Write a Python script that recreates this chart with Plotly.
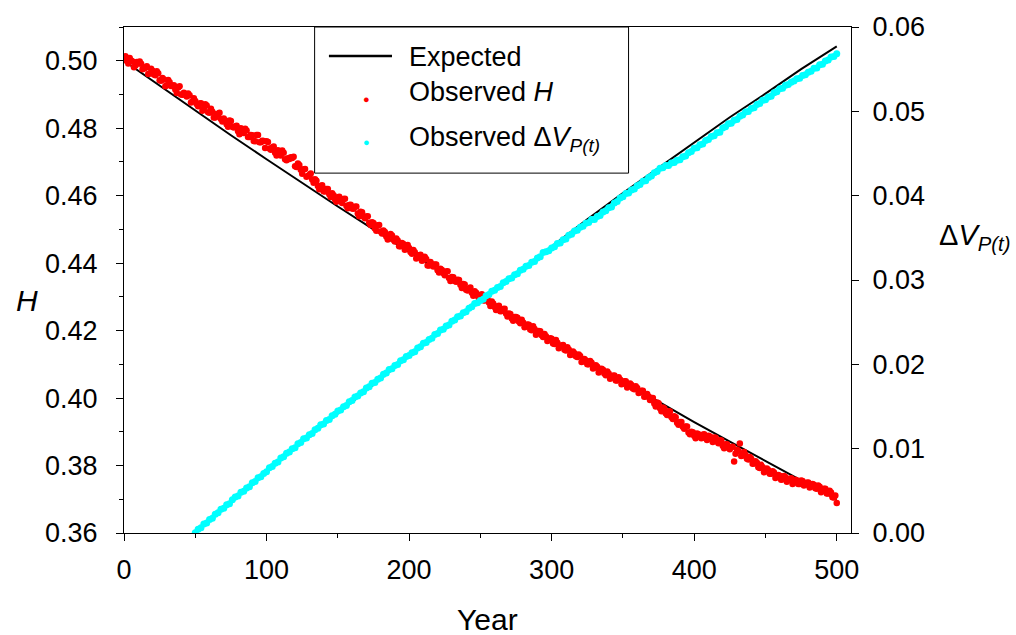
import plotly.graph_objects as go

# ---------------- data ----------------
exp_years = [0, 25, 50, 75, 100, 125, 150, 175, 200, 225, 250, 275, 300, 325, 350, 375, 400, 425, 450, 475, 500]
exp_H = [0.5000, 0.4926, 0.4852, 0.4779, 0.4708, 0.4637, 0.4568, 0.4500, 0.4432, 0.4366, 0.4301,
         0.4237, 0.4173, 0.4111, 0.4050, 0.3989, 0.3929, 0.3871, 0.3813, 0.3756, 0.3700]

exp_dv_years = [50, 75, 100, 125, 150, 175, 200, 225, 250, 275, 300, 325, 350, 375, 400, 425, 450, 475, 500]
exp_dV = [0.0, 0.00365, 0.0072, 0.01075, 0.0142, 0.0176, 0.0210, 0.0243, 0.02755, 0.03075, 0.03395,
          0.0372, 0.0403, 0.0433, 0.0463, 0.0493, 0.0521, 0.0550, 0.0577]

# observed H, even years 0..500
obs_H_even = [
    0.5011, 0.4999, 0.5008, 0.4998, 0.4986, 0.4992, 0.4991, 0.4977, 0.4984, 0.4962,
    0.4970, 0.4957, 0.4963, 0.4941, 0.4944, 0.4927, 0.4936, 0.4925, 0.4915, 0.4921,
    0.4900, 0.4905, 0.4894, 0.4898, 0.4879, 0.4881, 0.4865, 0.4874, 0.4859, 0.4867,
    0.4846, 0.4849, 0.4832, 0.4842, 0.4827, 0.4829, 0.4812, 0.4823, 0.4804, 0.4805,
    0.4791, 0.4800, 0.4786, 0.4793, 0.4774, 0.4779, 0.4761, 0.4780, 0.4758, 0.4762,
    0.4761, 0.4740, 0.4743, 0.4727, 0.4735, 0.4719, 0.4727, 0.4705, 0.4709, 0.4712,
    0.4687, 0.4695, 0.4677, 0.4678, 0.4656, 0.4661, 0.4648, 0.4649, 0.4629, 0.4629,
    0.4613, 0.4620, 0.4604, 0.4607, 0.4589, 0.4595, 0.4585, 0.4590, 0.4570, 0.4572,
    0.4562, 0.4567, 0.4547, 0.4552, 0.4538, 0.4538, 0.4520, 0.4521, 0.4503, 0.4512,
    0.4494, 0.4497, 0.4479, 0.4482, 0.4482, 0.4464, 0.4467, 0.4450, 0.4457, 0.4444,
    0.4445, 0.4428, 0.4432, 0.4419, 0.4425, 0.4409, 0.4412, 0.4393, 0.4397, 0.4396,
    0.4379, 0.4383, 0.4371, 0.4375, 0.4356, 0.4359, 0.4347, 0.4351, 0.4336, 0.4338,
    0.4321, 0.4324, 0.4312, 0.4317, 0.4303, 0.4305, 0.4290, 0.4294, 0.4283, 0.4286,
    0.4270, 0.4272, 0.4257, 0.4264, 0.4251, 0.4251, 0.4236, 0.4240, 0.4238, 0.4222,
    0.4224, 0.4213, 0.4217, 0.4201, 0.4205, 0.4194, 0.4198, 0.4181, 0.4183, 0.4172,
    0.4176, 0.4160, 0.4164, 0.4154, 0.4157, 0.4141, 0.4144, 0.4129, 0.4133, 0.4122,
    0.4125, 0.4109, 0.4111, 0.4100, 0.4105, 0.4090, 0.4093, 0.4082, 0.4084, 0.4068,
    0.4073, 0.4062, 0.4067, 0.4052, 0.4055, 0.4043, 0.4050, 0.4036, 0.4039, 0.4026,
    0.4030, 0.4017, 0.4022, 0.4005, 0.4005, 0.4000, 0.3984, 0.3987, 0.3970, 0.3972,
    0.3955, 0.3961, 0.3944, 0.3946, 0.3927, 0.3929, 0.3915, 0.3916, 0.3898, 0.3900,
    0.3888, 0.3895, 0.3885, 0.3891, 0.3881, 0.3888, 0.3878, 0.3883, 0.3871, 0.3875,
    0.3859, 0.3863, 0.3853, 0.3855, 0.3812, 0.3847, 0.3865, 0.3830, 0.3832, 0.3818,
    0.3820, 0.3806, 0.3808, 0.3793, 0.3795, 0.3783, 0.3787, 0.3776, 0.3779, 0.3766,
    0.3770, 0.3759, 0.3766, 0.3757, 0.3762, 0.3750, 0.3756, 0.3745, 0.3754, 0.3744,
    0.3750, 0.3738, 0.3743, 0.3731, 0.3737, 0.3726, 0.3731, 0.3717, 0.3720, 0.3705,
    0.3689,
]

# observed H, odd years 1..499
obs_H_odd = [
    0.5013, 0.4992, 0.5001, 0.4981, 0.4996, 0.4998, 0.4975, 0.4979, 0.4961, 0.4976,
    0.4959, 0.4969, 0.4942, 0.4949, 0.4924, 0.4943, 0.4925, 0.4927, 0.4904, 0.4924,
    0.4899, 0.4899, 0.4903, 0.4876, 0.4889, 0.4872, 0.4873, 0.4852, 0.4871, 0.4847,
    0.4858, 0.4832, 0.4842, 0.4846, 0.4820, 0.4823, 0.4804, 0.4821, 0.4802, 0.4807,
    0.4782, 0.4796, 0.4798, 0.4774, 0.4780, 0.4762, 0.4780, 0.4758, 0.4763, 0.4741,
    0.4759, 0.4736, 0.4746, 0.4719, 0.4730, 0.4734, 0.4708, 0.4711, 0.4714, 0.4715,
    0.4685, 0.4691, 0.4665, 0.4679, 0.4658, 0.4666, 0.4638, 0.4644, 0.4619, 0.4631,
    0.4612, 0.4620, 0.4596, 0.4601, 0.4582, 0.4597, 0.4578, 0.4591, 0.4563, 0.4573,
    0.4561, 0.4568, 0.4539, 0.4551, 0.4533, 0.4539, 0.4513, 0.4519, 0.4496, 0.4513,
    0.4488, 0.4492, 0.4470, 0.4486, 0.4469, 0.4473, 0.4450, 0.4460, 0.4440, 0.4454,
    0.4433, 0.4439, 0.4414, 0.4423, 0.4407, 0.4419, 0.4393, 0.4403, 0.4390, 0.4396,
    0.4372, 0.4380, 0.4364, 0.4376, 0.4347, 0.4358, 0.4345, 0.4350, 0.4326, 0.4337,
    0.4319, 0.4328, 0.4303, 0.4312, 0.4296, 0.4308, 0.4289, 0.4294, 0.4273, 0.4280,
    0.4261, 0.4274, 0.4258, 0.4265, 0.4242, 0.4249, 0.4229, 0.4240, 0.4227, 0.4232,
    0.4210, 0.4218, 0.4203, 0.4213, 0.4188, 0.4199, 0.4186, 0.4190, 0.4169, 0.4177,
    0.4162, 0.4172, 0.4148, 0.4156, 0.4143, 0.4151, 0.4128, 0.4138, 0.4124, 0.4129,
    0.4107, 0.4116, 0.4100, 0.4110, 0.4088, 0.4097, 0.4076, 0.4087, 0.4073, 0.4079,
    0.4057, 0.4066, 0.4052, 0.4062, 0.4041, 0.4050, 0.4031, 0.4043, 0.4028, 0.4035,
    0.4015, 0.4022, 0.4004, 0.4012, 0.3994, 0.4000, 0.3975, 0.3985, 0.3961, 0.3969,
    0.3950, 0.3960, 0.3938, 0.3943, 0.3921, 0.3929, 0.3909, 0.3916, 0.3893, 0.3899,
    0.3881, 0.3893, 0.3881, 0.3893, 0.3876, 0.3886, 0.3870, 0.3882, 0.3866, 0.3874,
    0.3851, 0.3863, 0.3848, 0.3856, 0.3835, 0.3844, 0.3828, 0.3840, 0.3820, 0.3825,
    0.3805, 0.3813, 0.3795, 0.3802, 0.3780, 0.3791, 0.3776, 0.3783, 0.3763, 0.3772,
    0.3758, 0.3769, 0.3752, 0.3760, 0.3745, 0.3758, 0.3745, 0.3756, 0.3741, 0.3749,
    0.3735, 0.3745, 0.3733, 0.3741, 0.3721, 0.3731, 0.3717, 0.3725, 0.3706, 0.3711,
]

# observed delta V_P(t), even years 50..500
obs_dV = [
    0.00002, 0.00044, 0.00063, 0.00108, 0.00119, 0.00159, 0.00175, 0.00222, 0.00239, 0.00282,
    0.00294, 0.00334, 0.00348, 0.00393, 0.00428, 0.00440, 0.00482, 0.00494, 0.00533, 0.00548,
    0.00595, 0.00612, 0.00654, 0.00667, 0.00705, 0.00726, 0.00775, 0.00788, 0.00826, 0.00843,
    0.00889, 0.00904, 0.00947, 0.00959, 0.00998, 0.01012, 0.01059, 0.01074, 0.01117, 0.01127,
    0.01164, 0.01180, 0.01225, 0.01242, 0.01283, 0.01292, 0.01333, 0.01345, 0.01390, 0.01409,
    0.01448, 0.01459, 0.01497, 0.01511, 0.01556, 0.01571, 0.01614, 0.01624, 0.01660, 0.01674,
    0.01720, 0.01734, 0.01776, 0.01786, 0.01824, 0.01838, 0.01881, 0.01898, 0.01938, 0.01947,
    0.01987, 0.01999, 0.02042, 0.02053, 0.02094, 0.02104, 0.02138, 0.02149, 0.02194, 0.02208,
    0.02251, 0.02260, 0.02295, 0.02309, 0.02353, 0.02366, 0.02408, 0.02417, 0.02454, 0.02466,
    0.02510, 0.02526, 0.02565, 0.02573, 0.02612, 0.02624, 0.02666, 0.02682, 0.02722, 0.02731,
    0.02758, 0.02771, 0.02813, 0.02828, 0.02868, 0.02877, 0.02912, 0.02924, 0.02968, 0.02981,
    0.03016, 0.03025, 0.03061, 0.03073, 0.03115, 0.03126, 0.03164, 0.03172, 0.03210, 0.03220,
    0.03262, 0.03277, 0.03326, 0.03334, 0.03346, 0.03380, 0.03393, 0.03432, 0.03440, 0.03477,
    0.03487, 0.03530, 0.03542, 0.03582, 0.03591, 0.03625, 0.03638, 0.03674, 0.03681, 0.03716,
    0.03718, 0.03753, 0.03764, 0.03806, 0.03821, 0.03858, 0.03865, 0.03912, 0.03932, 0.03972,
    0.03987, 0.04025, 0.04032, 0.04068, 0.04078, 0.04119, 0.04133, 0.04171, 0.04177, 0.04214,
    0.04233, 0.04273, 0.04287, 0.04325, 0.04331, 0.04357, 0.04357, 0.04388, 0.04392, 0.04419,
    0.04425, 0.04462, 0.04470, 0.04510, 0.04524, 0.04562, 0.04568, 0.04603, 0.04612, 0.04653,
    0.04667, 0.04703, 0.04709, 0.04745, 0.04753, 0.04803, 0.04816, 0.04853, 0.04860, 0.04894,
    0.04903, 0.04943, 0.04957, 0.04993, 0.04998, 0.05034, 0.05042, 0.05081, 0.05094, 0.05131,
    0.05137, 0.05171, 0.05180, 0.05220, 0.05233, 0.05269, 0.05274, 0.05309, 0.05317, 0.05346,
    0.05359, 0.05385, 0.05391, 0.05425, 0.05433, 0.05463, 0.05475, 0.05511, 0.05515, 0.05551,
    0.05558, 0.05596, 0.05609, 0.05645, 0.05650, 0.05683,
]

obs_H_years, obs_H = [], []
for i, v in enumerate(obs_H_even):
    obs_H_years.append(2 * i)
    obs_H.append(v)
    if i < len(obs_H_odd):
        obs_H_years.append(2 * i + 1)
        obs_H.append(obs_H_odd[i])
obs_dv_years = list(range(50, 501, 2))

# ---------------- figure ----------------
FONT = "Liberation Sans, Arial, sans-serif"
fig = go.Figure()

fig.add_trace(go.Scatter(x=exp_years, y=exp_H, mode="lines",
                         line=dict(color="black", width=2), showlegend=False))
fig.add_trace(go.Scatter(x=obs_H_years, y=obs_H, mode="markers",
                         marker=dict(color="#ff0000", size=6.5, line=dict(width=0)),
                         showlegend=False))
fig.add_trace(go.Scatter(x=exp_dv_years, y=exp_dV, mode="lines", yaxis="y2",
                         line=dict(color="black", width=2), showlegend=False))
fig.add_trace(go.Scatter(x=obs_dv_years, y=obs_dV, mode="markers", yaxis="y2",
                         marker=dict(color="#00ffff", size=7, line=dict(width=0)),
                         showlegend=False))

axis_common = dict(showgrid=False, zeroline=False, showline=True, linecolor="black",
                   linewidth=1, ticks="outside", tickcolor="black", ticklen=7, tickwidth=1,
                   tickfont=dict(family=FONT, size=27, color="black"))

fig.update_layout(
    width=1016, height=635,
    margin=dict(l=124, r=165, t=25, b=102),
    paper_bgcolor="white", plot_bgcolor="white",
    font=dict(family=FONT, color="black"),
    xaxis=dict(range=[0, 510], dtick=100, tick0=0, mirror=True,
               minor=dict(dtick=50, tick0=0, ticks="outside", ticklen=4, tickcolor="black"),
               ticklabelstandoff=6, **axis_common),
    yaxis=dict(range=[0.36, 0.51], dtick=0.02, tick0=0.36, tickformat=".2f",
               minor=dict(dtick=0.01, tick0=0.36, ticks="outside", ticklen=4, tickcolor="black"),
               ticklabelstandoff=13, **axis_common),
    yaxis2=dict(range=[0, 0.06], dtick=0.01, tick0=0, tickformat=".2f", overlaying="y",
                side="right", ticklabelstandoff=8, **axis_common),
    showlegend=False,
)

# axis titles
fig.add_annotation(text="Year", xref="paper", yref="paper", x=0.5, y=-0.171,
                   showarrow=False, font=dict(family=FONT, size=30), xanchor="center", yanchor="middle")
fig.add_annotation(text="<i>H</i>", xref="paper", yref="paper", x=-0.134, y=0.459,
                   showarrow=False, font=dict(family=FONT, size=30), xanchor="center", yanchor="middle")
fig.add_annotation(text="Δ<i>V</i><sub><i>P(t)</i></sub>", xref="paper", yref="paper",
                   x=1.118, y=0.585, showarrow=False, font=dict(family=FONT, size=29),
                   xanchor="left", yanchor="middle")

# legend box drawn by hand
def px_x(px):
    return (px - 124.3) / 726.2

def px_y(py):
    return (533 - py) / 508

fig.add_shape(type="rect", xref="paper", yref="paper", x0=px_x(314.7), x1=px_x(628.3),
              y0=px_y(171.7), y1=1.0, line=dict(color="black", width=1), fillcolor="white",
              layer="above")
fig.add_shape(type="line", xref="paper", yref="paper", x0=px_x(329), x1=px_x(392),
              y0=px_y(54), y1=px_y(54), line=dict(color="black", width=2.5), layer="above")
fig.add_annotation(text="●", xref="paper", yref="paper", x=px_x(360.7), y=px_y(89.5),
                   showarrow=False, font=dict(size=11, color="#ff0000"))
fig.add_annotation(text="●", xref="paper", yref="paper", x=px_x(360.7), y=px_y(132.3),
                   showarrow=False, font=dict(size=11, color="#00ffff"))
leg_font = dict(family=FONT, size=27, color="black")
fig.add_annotation(text="Expected", xref="paper", yref="paper", x=px_x(407), y=px_y(55),
                   showarrow=False, font=leg_font, xanchor="left", yanchor="middle")
fig.add_annotation(text="Observed <i>H</i>", xref="paper", yref="paper", x=px_x(407), y=px_y(90),
                   showarrow=False, font=leg_font, xanchor="left", yanchor="middle")
fig.add_annotation(text="Observed Δ<i>V</i><sub><i>P(t)</i></sub>", xref="paper", yref="paper",
                   x=px_x(407), y=px_y(137), showarrow=False, font=leg_font,
                   xanchor="left", yanchor="middle")

fig.write_html("out.html", config={"displayModeBar": False},
               post_script="document.body.style.margin='0px';")
